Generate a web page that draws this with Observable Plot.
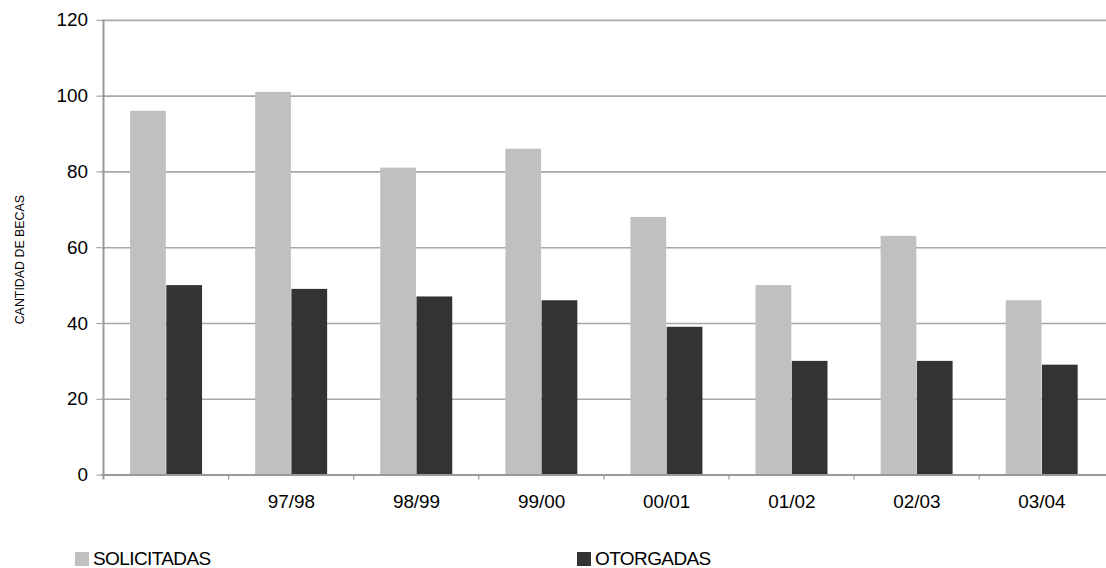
<!DOCTYPE html>
<html>
<head>
<meta charset="utf-8">
<script src="https://cdn.jsdelivr.net/npm/d3@7"></script>
<script src="https://cdn.jsdelivr.net/npm/@observablehq/plot@0.6"></script>
<style>
  html, body { margin: 0; padding: 0; background: #fff; }
  body { width: 1106px; height: 568px; overflow: hidden; position: relative;
         font-family: "Liberation Sans", Arial, sans-serif; }
  #chart { position: absolute; left: 0; top: 0; }
  .item { position: absolute; top: 548px; display: flex; align-items: center;
          font-size: 19px; letter-spacing: -0.6px; color: #000; }
  .sw { width: 14px; height: 14px; margin-right: 4px; }
</style>
</head>
<body>
<div id="chart"></div>
<div id="legend"></div>
<script>
// ---- data ----
const periodos = ["", "97/98", "98/99", "99/00", "00/01", "01/02", "02/03", "03/04"];
const solicitadas = [96, 101, 81, 86, 68, 50, 63, 46];
const otorgadas = [50, 49, 47, 46, 39, 30, 30, 29];
const yTicks = [0, 20, 40, 60, 80, 100, 120];
const series = ["SOLICITADAS", "OTORGADAS"];
const colores = ["#c0c0c0", "#333333"];
const yLabel = "CANTIDAD DE BECAS";

const rows = periodos.map((p, i) => ({periodo: p, solicitadas: solicitadas[i], otorgadas: otorgadas[i]}));

// ---- layout ----
const W = 1114, H = 540;
const mL = 102, mR = 0, mT = 20, mB = 62;
const bw = (W - mL - mR) / periodos.length;
const grid = "#a8a8a8", axisCol = "#999999";

const chart = Plot.plot({
  width: W,
  height: H,
  marginLeft: mL,
  marginRight: mR,
  marginTop: mT,
  marginBottom: mB,
  style: {fontFamily: "'Liberation Sans', Arial, sans-serif", fontSize: "19px", color: "#000", background: "#fff"},
  x: {type: "band", domain: periodos, padding: 0, axis: null},
  y: {domain: [0, 120], axis: null},
  marks: [
    Plot.ruleY(yTicks.filter(t => t > 0), {y: d => d, stroke: grid, strokeWidth: 1.6}),
    Plot.barY(rows, {x: "periodo", y: "solicitadas", fill: colores[0],
      insetLeft: 27, insetRight: bw - 63.5}),
    Plot.barY(rows, {x: "periodo", y: "otorgadas", fill: colores[1],
      insetLeft: 63.5, insetRight: bw - 100}),
    Plot.ruleY([0], {stroke: axisCol, strokeWidth: 2}),
    // vertical axis line at the left edge of the first band
    Plot.ruleX([periodos[0]], {x: d => d, dx: -bw / 2, stroke: axisCol, strokeWidth: 2, insetBottom: -5}),
    // category boundary ticks
    Plot.ruleX(periodos.slice(1), {x: d => d, dx: -bw / 2, y1: 0, y2: 0, insetBottom: -5, stroke: axisCol, strokeWidth: 1.2}),
    Plot.axisY(yTicks, {anchor: "left", tickSize: 5, tickPadding: 9, stroke: axisCol, fontSize: 19, label: null}),
    Plot.axisX(periodos, {anchor: "bottom", tickSize: 0, tickPadding: 20, fontSize: 19, label: null}),
    Plot.text([yLabel], {frameAnchor: "left", textAnchor: "middle", lineAnchor: "middle",
      rotate: -90, dx: -82, dy: 12, fontSize: 12.5, fill: "#000", text: d => d})
  ]
});
document.getElementById("chart").appendChild(chart);

// ---- legend ----
const legend = document.getElementById("legend");
const lefts = [75, 577];
series.forEach((s, i) => {
  const it = document.createElement("div");
  it.className = "item";
  it.style.left = lefts[i] + "px";
  const sw = document.createElement("span");
  sw.className = "sw";
  sw.style.background = colores[i];
  const t = document.createElement("span");
  t.textContent = s;
  it.appendChild(sw);
  it.appendChild(t);
  legend.appendChild(it);
});
</script>
</body>
</html>
